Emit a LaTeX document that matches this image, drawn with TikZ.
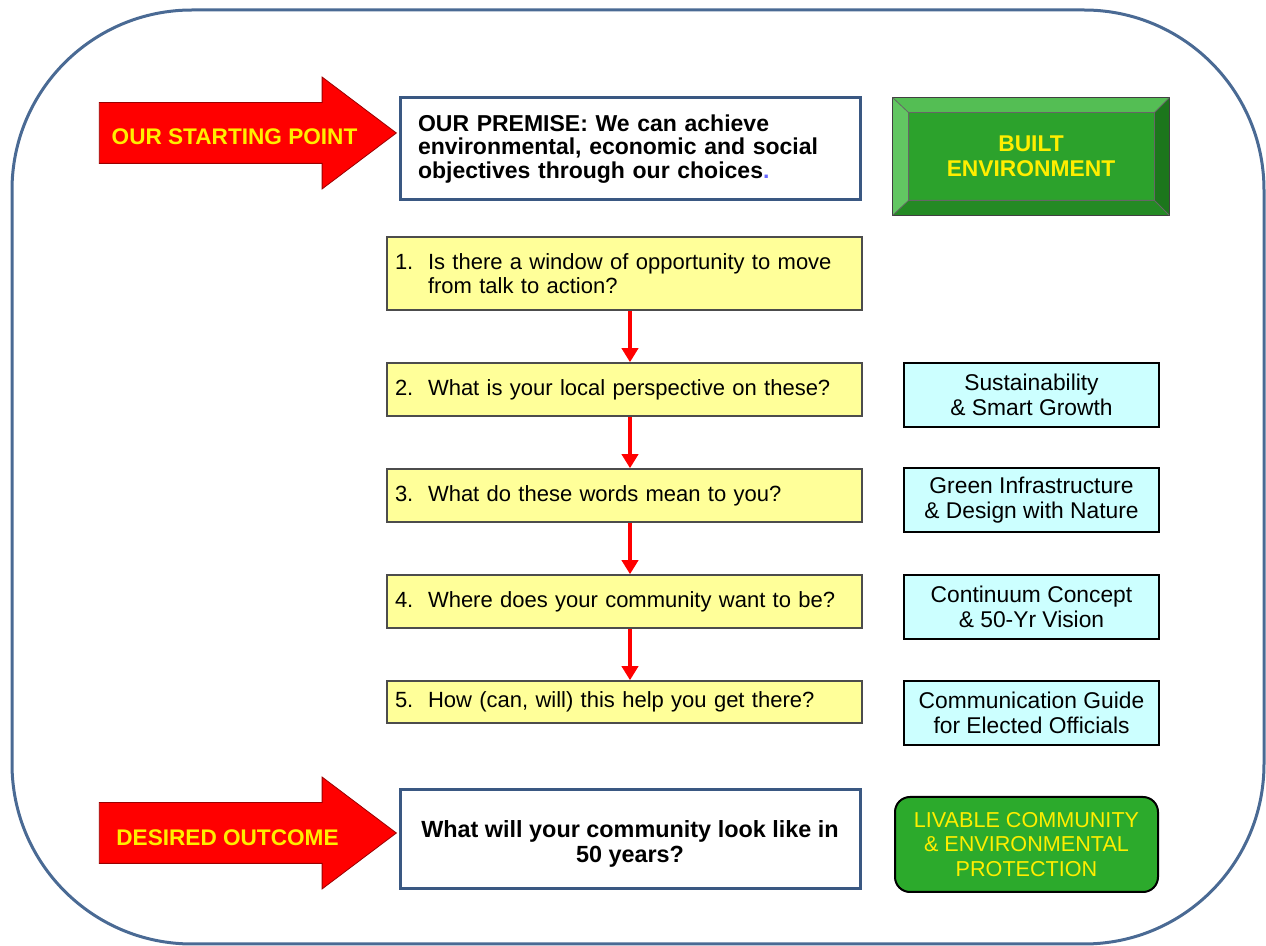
\documentclass[tikz,border=0pt]{standalone}
\usepackage{fontspec}
\setmainfont{Liberation Sans}
\usetikzlibrary{shapes.arrows,arrows.meta}

\definecolor{framecol}{RGB}{74,106,148}
\definecolor{premcol}{RGB}{58,88,130}
\definecolor{qyellow}{RGB}{255,255,153}
\definecolor{tcyan}{RGB}{204,255,255}
\definecolor{bface}{RGB}{44,162,44}
\definecolor{btop}{RGB}{84,190,84}
\definecolor{bleft}{RGB}{98,198,98}
\definecolor{bright}{RGB}{28,118,28}
\definecolor{bbottom}{RGB}{36,138,36}
\definecolor{lgreen}{RGB}{44,170,44}
\definecolor{labyellow}{RGB}{255,238,0}

% numbered question text
\newcommand{\qline}[2]{\makebox[16.5pt][l]{#1}\parbox[t]{212pt}{\raggedright #2}}

\begin{document}
\begin{tikzpicture}[x=0.5pt, y=-0.5pt,
    bigarrow/.style={single arrow, fill=red, draw=red!60!black, line width=0.4pt,
        inner xsep=0pt, inner ysep=15pt, single arrow head extend=12.75pt,
        single arrow tip angle=74, minimum height=148.5pt, anchor=tip},
    arrowlabel/.style={font=\bfseries\fontsize{11.3}{13}\selectfont, text=labyellow},
    qbox/.style={draw=black!70, fill=qyellow, line width=0.75pt, align=left,
        text width=229.5pt, inner xsep=4pt, minimum height=26.5pt,
        font=\fontsize{11}{11.7}\selectfont},
    topic/.style={draw=black, fill=tcyan, line width=1pt, align=center,
        minimum width=127.5pt, minimum height=32pt,
        font=\fontsize{11.4}{12.5}\selectfont},
    flow/.style={red, line width=2pt, -{Triangle[width=8pt,length=7pt]}}]

    \useasboundingbox (0,0) rectangle (1266,946);

    % outer frame
    \draw[framecol, line width=1.5pt, rounded corners=90pt] (12,10) rectangle (1264,944);

    % starting point
    \node[bigarrow] (startarrow) at (397,133) {};
    \node[arrowlabel] (startlabel) at (234.5,137) {OUR STARTING POINT};

    \node[draw=premcol, line width=1.5pt, fill=white, text width=212pt, inner xsep=9pt,
        minimum height=51pt, align=left, font=\bfseries\fontsize{11.5}{11.6}\selectfont]
        (premise) at (630,149)
        {OUR PREMISE: We can achieve\\environmental, economic and social\\
         objectives through our choices\textcolor{blue!60!white}{.}};

    % built environment (bevelled)
    \node[fill=bface, minimum width=138pt, minimum height=58.5pt, align=center,
        text=labyellow, font=\bfseries\fontsize{11.4}{12.5}\selectfont]
        (built) at (1031,156.5) {BUILT\\ENVIRONMENT};
    \coordinate (bnw) at ([shift={(8pt,-7.5pt)}]built.north west);
    \coordinate (bne) at ([shift={(-7.5pt,-7.5pt)}]built.north east);
    \coordinate (bsw) at ([shift={(8pt,7.5pt)}]built.south west);
    \coordinate (bse) at ([shift={(-7.5pt,7.5pt)}]built.south east);
    \fill[btop] (built.north west) -- (built.north east) -- (bne) -- (bnw) -- cycle;
    \fill[bleft] (built.north west) -- (bnw) -- (bsw) -- (built.south west) -- cycle;
    \fill[bright] (built.north east) -- (built.south east) -- (bse) -- (bne) -- cycle;
    \fill[bbottom] (built.south west) -- (bsw) -- (bse) -- (built.south east) -- cycle;
    \draw[black!75, line width=0.5pt] (built.north west) rectangle (built.south east);
    \draw[black!60, line width=0.4pt] (bnw) rectangle (bse)
        (built.north west) -- (bnw) (built.north east) -- (bne)
        (built.south west) -- (bsw) (built.south east) -- (bse);

    % questions
    \node[qbox, minimum height=36.5pt] (q1) at (624.5,273.5)
        {\qline{1.}{Is there a window of opportunity to move\\from talk to action?}};
    \node[qbox] (q2) at (624.5,389.5) {\qline{2.}{What is your local perspective on these?}};
    \node[qbox] (q3) at (624.5,495.5) {\qline{3.}{What do these words mean to you?}};
    \node[qbox] (q4) at (624.5,601.5) {\qline{4.}{Where does your community want to be?}};
    \node[qbox, minimum height=21pt] (q5) at (624.5,702) {\qline{5.}{How (can, will) this help you get there?}};

    \foreach \a/\b in {q1/q2,q2/q3,q3/q4,q4/q5} {
        \draw[flow] ([xshift=2.75pt]\a.south) -- ([xshift=2.75pt]\b.north);
    }

    % topics
    \node[topic] (t1) at (1031.5,395)   {Sustainability\\\& Smart Growth};
    \node[topic] (t2) at (1031.5,500.5) {Green Infrastructure\\\& Design with Nature};
    \node[topic] (t3) at (1031.5,607)   {Continuum Concept\\\& 50-Yr Vision};
    \node[topic] (t4) at (1031.5,713)   {Communication Guide\\for Elected Officials};

    % desired outcome
    \node[bigarrow] (endarrow) at (397,833) {};
    \node[arrowlabel] (endlabel) at (227.5,837.5) {DESIRED OUTCOME};

    \node[draw=premcol, line width=1.5pt, fill=white, minimum width=230pt,
        minimum height=49.5pt, font=\bfseries\fontsize{11.7}{12.5}\selectfont]
        (outcome) at (630,839.5)
        {\raisebox{-3pt}[\height][\depth]{\begin{tabular}{@{}c@{}}What will your community look like in\\50 years?\end{tabular}}};

    \node[draw=black, line width=1pt, fill=lgreen, rounded corners=7.5pt,
        minimum width=131.5pt, minimum height=47.5pt, align=center, text=labyellow,
        font=\fontsize{10.8}{12.2}\selectfont]
        (livable) at (1026.5,844.5) {LIVABLE COMMUNITY\\\& ENVIRONMENTAL\\PROTECTION};

\end{tikzpicture}
\end{document}
